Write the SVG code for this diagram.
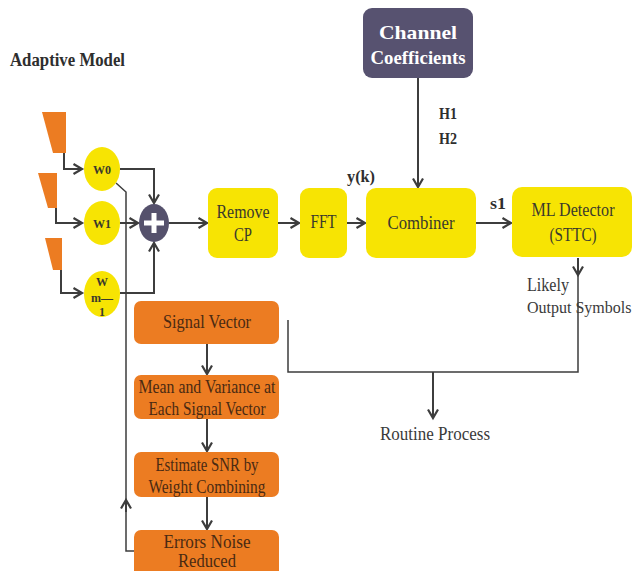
<svg xmlns="http://www.w3.org/2000/svg" width="636" height="571" viewBox="0 0 636 571">
<defs>
<marker id="ah" markerUnits="userSpaceOnUse" markerWidth="14" markerHeight="14" refX="10" refY="6" orient="auto">
<path d="M1.5,1 L10,6 L1.5,11" fill="none" stroke="#3d3d3d" stroke-width="2.2"/>
</marker>
</defs>
<style>
.ln{fill:none;stroke:#3d3d3d;stroke-width:2}
.thin{fill:none;stroke:#3d3d3d;stroke-width:1.5}
.yb{fill:#f7e403}
.ob{fill:#ec7c22}
.trap{fill:#ec7c22}
.t{font-family:"Liberation Serif","DejaVu Serif",serif;text-anchor:middle;dominant-baseline:central}
.ty{fill:#3a3a2c;font-size:18px}
.to{fill:#4a2a12;font-size:18px}
.b{font-weight:bold;fill:#2e2e2e}
.w{font-weight:bold;fill:#3a3a2c;font-size:12px}
.pl{fill:#3a3a3a;font-size:18px}
</style>
<rect width="636" height="571" fill="#ffffff"/>

<text class="t b" x="67.5" y="60" font-size="18" textLength="115" lengthAdjust="spacingAndGlyphs">Adaptive Model</text>

<g id="in0"><polygon class="trap" points="42,112 66,112 66,153 53,153"/></g>
<g id="in1"><polygon class="trap" points="38,173 57,173 57,208 48,208"/></g>
<g id="in2"><polygon class="trap" points="45,238 62,238 62,270 53,270"/></g>

<g id="connectors">
<polyline class="ln" points="64,153 64,169 82,169" marker-end="url(#ah)"/>
<polyline class="ln" points="56,208 56,223 82,223" marker-end="url(#ah)"/>
<polyline class="ln" points="61,270 61,293 82,293" marker-end="url(#ah)"/>
<polyline class="ln" points="120,169 154,169 154,203" marker-end="url(#ah)"/>
<polyline class="ln" points="120,223 138,223" marker-end="url(#ah)"/>
<polyline class="ln" points="120,293 154,293 154,243" marker-end="url(#ah)"/>
<polyline class="thin" points="116,183 126,192 126,551 134,551"/>
<path class="ln" d="M126,512 L126,500" marker-end="url(#ah)"/>
<polyline class="ln" points="169,223 207,223" marker-end="url(#ah)"/>
<polyline class="ln" points="278,223 299,223" marker-end="url(#ah)"/>
<polyline class="ln" points="347,223 365,223" marker-end="url(#ah)"/>
<polyline class="ln" points="476,223 511,223" marker-end="url(#ah)"/>
<polyline class="ln" points="418,78 418,187" marker-end="url(#ah)"/>
<polyline class="ln" points="578,258 578,275" marker-end="url(#ah)"/>
<polyline class="thin" points="578,262 578,372 288,372 288,320"/>
<polyline class="ln" points="433,372 433,418" marker-end="url(#ah)"/>
<polyline class="ln" points="207,344 207,374" marker-end="url(#ah)"/>
<polyline class="ln" points="207,419 207,451" marker-end="url(#ah)"/>
<polyline class="ln" points="207,497 207,529" marker-end="url(#ah)"/>
</g>

<g id="w0"><ellipse class="yb" cx="102" cy="169" rx="18" ry="22"/><text class="t w" x="102" y="170">W0</text></g>
<g id="w1"><ellipse class="yb" cx="102" cy="223" rx="18" ry="22"/><text class="t w" x="102" y="224">W1</text></g>
<g id="wm1"><ellipse class="yb" cx="102" cy="294" rx="18" ry="23"/>
<text class="t w" x="102" y="282">W</text><text class="t w" x="102" y="298">m—</text><text class="t w" x="102" y="312">1</text></g>

<g id="sum"><ellipse cx="154" cy="223" rx="15" ry="19" fill="#55516c"/>
<rect x="151.5" y="213" width="5" height="20" fill="#ffffff"/><rect x="144" y="220.5" width="20" height="5" fill="#ffffff"/></g>

<g id="removecp"><rect class="yb" x="208" y="188" width="70" height="70" rx="9"/>
<text class="t ty" x="243" y="212" textLength="53" lengthAdjust="spacingAndGlyphs">Remove</text><text class="t ty" x="243" y="235" textLength="18" lengthAdjust="spacingAndGlyphs">CP</text></g>
<g id="fft"><rect class="yb" x="300" y="188" width="47" height="70" rx="9"/>
<text class="t ty" x="323.5" y="222" textLength="26" lengthAdjust="spacingAndGlyphs">FFT</text></g>
<g id="combiner"><rect class="yb" x="366" y="188" width="110" height="70" rx="10"/>
<text class="t ty" x="421" y="223" textLength="67" lengthAdjust="spacingAndGlyphs">Combiner</text></g>
<g id="mldetector"><rect class="yb" x="512" y="187" width="120" height="70" rx="10"/>
<text class="t ty" x="573" y="210" textLength="83" lengthAdjust="spacingAndGlyphs">ML Detector</text><text class="t ty" x="573" y="235" textLength="47" lengthAdjust="spacingAndGlyphs">(STTC)</text></g>
<g id="channel"><rect x="363" y="8" width="110" height="70" rx="9" fill="#575270"/>
<text class="t" x="418" y="32" font-size="19" font-weight="bold" fill="#ffffff" textLength="78" lengthAdjust="spacingAndGlyphs">Channel</text>
<text class="t" x="418" y="57" font-size="19" font-weight="bold" fill="#ffffff" textLength="95" lengthAdjust="spacingAndGlyphs">Coefficients</text></g>

<text class="t b" x="361" y="176" font-size="17" textLength="28" lengthAdjust="spacingAndGlyphs">y(k)</text>
<text class="t b" x="498" y="203" font-size="17" textLength="16" lengthAdjust="spacingAndGlyphs">s1</text>
<text class="t b" x="448" y="113" font-size="17" textLength="18" lengthAdjust="spacingAndGlyphs">H1</text>
<text class="t b" x="448" y="138" font-size="17" textLength="18" lengthAdjust="spacingAndGlyphs">H2</text>
<text class="t pl" x="527" y="285" style="text-anchor:start" textLength="42" lengthAdjust="spacingAndGlyphs">Likely</text>
<text class="t" x="527" y="307" fill="#3a3a3a" font-size="16" style="text-anchor:start">Output Symbols</text>
<text class="t pl" x="435" y="434" textLength="110" lengthAdjust="spacingAndGlyphs">Routine Process</text>

<g id="signalvector"><rect class="ob" x="134" y="301" width="145" height="43" rx="7"/>
<text class="t to" x="207" y="322" textLength="88" lengthAdjust="spacingAndGlyphs">Signal Vector</text></g>
<g id="meanvar"><rect class="ob" x="134" y="375" width="145" height="44" rx="7"/>
<text class="t to" x="207" y="387" textLength="137" lengthAdjust="spacingAndGlyphs">Mean and Variance at</text><text class="t to" x="207" y="409" textLength="117" lengthAdjust="spacingAndGlyphs">Each Signal Vector</text></g>
<g id="estimate"><rect class="ob" x="134" y="452" width="145" height="45" rx="7"/>
<text class="t to" x="207" y="465" textLength="103" lengthAdjust="spacingAndGlyphs">Estimate SNR by</text><text class="t to" x="207" y="487" textLength="117" lengthAdjust="spacingAndGlyphs">Weight Combining</text></g>
<g id="errors"><rect class="ob" x="134" y="530" width="145" height="50" rx="7"/>
<text class="t to" x="207" y="542" textLength="87" lengthAdjust="spacingAndGlyphs">Errors Noise</text><text class="t to" x="207" y="561" textLength="58" lengthAdjust="spacingAndGlyphs">Reduced</text></g>
</svg>
